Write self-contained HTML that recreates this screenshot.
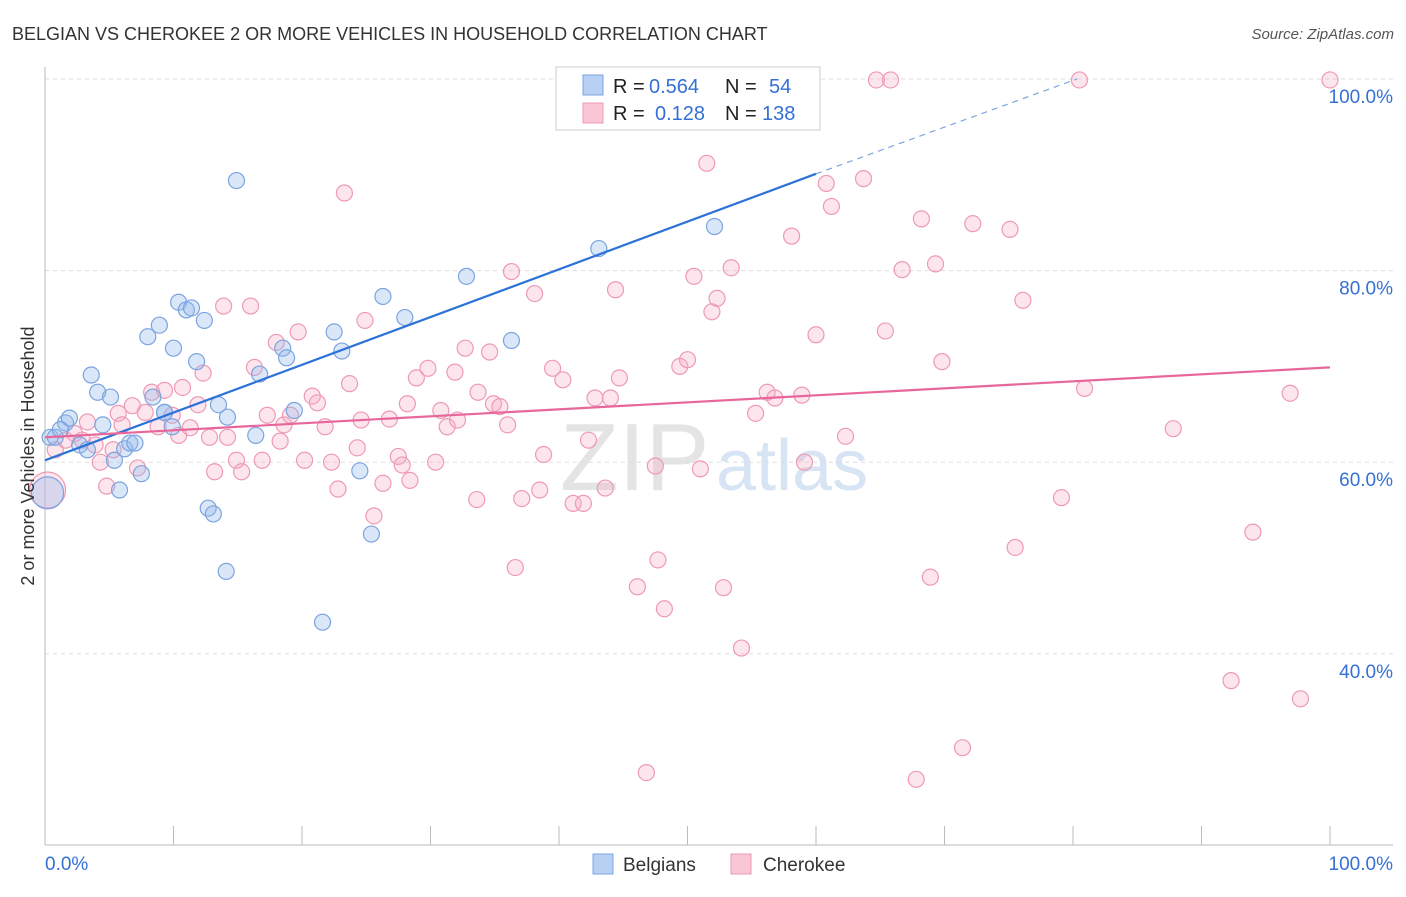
<!DOCTYPE html>
<html><head><meta charset="utf-8">
<style>
body{margin:0;background:#fff;font-family:"Liberation Sans",sans-serif;}
svg text{font-family:"Liberation Sans",sans-serif;}
</style></head>
<body>
<svg id="chart" width="1406" height="892">
<text x="12" y="40" font-size="18" fill="#333">BELGIAN VS CHEROKEE 2 OR MORE VEHICLES IN HOUSEHOLD CORRELATION CHART</text>
<text x="1394" y="39" font-size="15" fill="#555" font-style="italic" text-anchor="end">Source: ZipAtlas.com</text>
<text x="560" y="490" font-size="96" fill="#e4e4e4" font-family="Liberation Serif">ZIP</text>
<text x="716" y="490" font-size="72" fill="#d6e4f3">atlas</text>
<g id="grid"></g>
<g id="pts"></g>
<g id="lines"></g>
<text transform="translate(34,456) rotate(-90)" font-size="18" fill="#333" text-anchor="middle">2 or more Vehicles in Household</text>
<g>
<rect x="556" y="67" width="264" height="63" fill="#fff" stroke="#ccc"/>
<rect x="583" y="75" width="20" height="20" fill="#b8d0f4" stroke="#7ba4e0"/>
<rect x="583" y="103" width="20" height="20" fill="#f9c6d6" stroke="#ee9ab4"/>
<text x="613" y="93" font-size="20" fill="#222">R =</text><text x="649" y="93" font-size="20" fill="#3570d4">0.564</text>
<text x="725" y="93" font-size="20" fill="#222">N =</text><text x="769" y="93" font-size="20" fill="#3570d4">54</text>
<text x="613" y="120" font-size="20" fill="#222">R =</text><text x="655" y="120" font-size="20" fill="#3570d4">0.128</text>
<text x="725" y="120" font-size="20" fill="#222">N =</text><text x="762" y="120" font-size="20" fill="#3570d4">138</text>
</g>
<g>
<rect x="593" y="854" width="20" height="20" fill="#b8d0f4" stroke="#7ba4e0"/>
<text x="623" y="871" font-size="19" fill="#333">Belgians</text>
<rect x="731" y="854" width="20" height="20" fill="#f9c6d6" stroke="#ee9ab4"/>
<text x="763" y="871" font-size="19" fill="#333">Cherokee</text>
</g>
</svg>
<script>
const yTicks=[100,80,60,40];
const xTickLabels=["0.0%","100.0%"];
const belgX=[0.4,0.8,1.6,1.9,2.7,3.3,3.6,4.1,4.5,5.1,5.4,5.8,6.2,6.6,7.0,7.5,8.0,8.4,8.9,9.3,9.9,10.0,10.4,11.0,11.4,11.8,12.4,12.7,13.1,13.5,14.1,14.2,14.9,16.4,16.7,18.5,18.8,19.4,21.6,22.5,23.1,24.5,25.4,26.3,28.0,32.8,36.3,43.1,43.7,48.8,52.1,0.2,1.2,9.3];
const belgY=[62.6,62.6,64.1,64.6,61.8,61.3,69.1,67.3,63.9,66.8,60.2,57.1,61.4,62.0,62.0,58.8,73.1,66.8,74.3,65.2,63.7,71.9,76.7,75.9,76.1,70.5,74.8,55.2,54.6,66.0,48.6,64.7,89.4,62.8,69.2,71.9,70.9,65.4,43.3,73.6,71.6,59.1,52.5,77.3,75.1,79.4,72.7,82.3,99.9,99.9,84.6,56.8,63.4,65.2];
const cherX=[0.8,1.6,2.3,2.9,3.3,3.9,4.3,4.8,5.3,5.7,6.0,6.8,7.2,7.8,8.3,8.8,9.3,9.9,10.4,10.7,11.3,11.9,12.3,12.8,13.2,13.9,14.2,14.9,15.3,16.0,16.3,16.9,17.3,18.0,18.3,18.6,19.1,19.7,20.2,20.8,21.2,21.8,22.3,22.8,23.3,23.7,24.3,24.6,24.9,25.6,26.3,26.8,27.5,27.8,28.4,28.2,28.9,29.8,30.4,30.8,31.3,31.9,32.1,32.7,33.7,33.6,34.6,34.9,35.4,36.0,36.3,36.6,37.1,38.1,38.5,38.8,39.5,40.3,41.1,41.9,42.3,42.8,43.6,44.0,44.4,44.7,46.1,46.8,47.5,47.7,48.2,49.4,50.0,50.5,51.0,51.5,51.9,52.3,52.8,53.4,54.2,55.3,56.2,56.8,58.1,58.9,59.1,60.0,60.8,61.2,62.3,63.7,64.7,65.4,65.8,66.7,67.8,68.2,68.9,69.3,69.8,71.4,72.2,75.1,75.5,76.1,79.1,80.5,80.9,87.8,92.3,94.0,96.9,97.7,100,0.2];
const cherY=[61.3,62.3,63.0,62.3,64.2,61.8,60.0,57.5,61.3,65.1,63.9,65.9,59.4,65.2,67.3,63.7,67.5,64.9,62.8,67.8,63.6,66.0,69.3,62.6,59.0,76.3,62.6,60.2,59.0,76.3,69.9,60.2,64.9,72.5,62.2,63.9,64.9,73.6,60.2,66.9,66.2,63.7,60.0,57.2,88.1,68.2,61.5,64.4,74.8,54.4,57.8,64.5,60.6,59.7,58.1,66.1,68.8,69.8,60.0,65.4,63.7,69.4,64.4,71.9,67.3,56.1,71.5,66.1,65.8,63.9,79.9,49.0,56.2,77.6,57.1,60.8,69.8,68.6,55.7,55.7,62.3,66.7,57.3,66.7,78.0,68.8,47.0,27.6,59.6,49.8,44.7,70.0,70.7,79.4,59.3,91.2,75.7,77.1,46.9,80.3,40.6,65.1,67.3,66.7,83.6,67.0,60.0,73.3,89.1,86.7,62.7,89.6,99.9,73.7,99.9,80.1,26.9,85.4,48.0,80.7,70.5,30.2,84.9,84.3,51.1,76.9,56.3,99.9,67.7,63.5,37.2,52.7,67.2,35.3,99.9,57.1];
const belgTrend=[[0,60.2],[60,90.1]], belgTrendDash=[[60,90.1],[80.3,100]];
const cherTrend=[[0,62.6],[100,69.9]];
const NS="http://www.w3.org/2000/svg";
const sx=v=>45+v*12.85, sy=v=>79+(100-v)*9.58;
function mk(tag,attrs,parent){const e=document.createElementNS(NS,tag);for(const k in attrs)e.setAttribute(k,attrs[k]);parent.appendChild(e);return e;}
const grid=document.getElementById('grid');
yTicks.forEach(t=>{
 const l=mk('line',{x1:45,x2:1393,y1:sy(t),y2:sy(t),stroke:'#ddd','stroke-dasharray':'4,4'},grid);
 
 
 const tx=mk('text',{x:1393,y:sy(t)+24,'font-size':19,fill:'#3570d4','text-anchor':'end'},grid);tx.textContent=t.toFixed(1)+'%';
 
 
});
const ax=mk('line',{x1:45,x2:1393,y1:845,y2:845,stroke:'#bbb'},grid);


const ay=mk('line',{x1:45,x2:45,y1:67,y2:845,stroke:'#bbb'},grid);


for(let i=0;i<=10;i++){const t=mk('line',{x1:sx(i*10),x2:sx(i*10),y1:826,y2:845,stroke:'#bbb'},grid);
 
 }
[[0,'start',45],[1,'end',1393]].forEach(([i,a,x])=>{const t=mk('text',{x:x,y:870,'font-size':19,fill:'#3570d4','text-anchor':a},grid);t.textContent=xTickLabels[i];
 
 });
const pts=document.getElementById('pts');
cherX.forEach((x,i)=>{const big=i===cherX.length-1;const c=mk('circle',{cx:sx(x),cy:sy(cherY[i]),r:big?18:8,fill:'rgba(246,170,196,0.3)',stroke:'#ee9ab4','stroke-width':1.2},pts);
 
 });
belgX.forEach((x,i)=>{const big=i===51;const c=mk('circle',{cx:sx(x),cy:sy(belgY[i]),r:big?16:8,fill:'rgba(150,185,235,0.35)',stroke:'#7ba4e0','stroke-width':1.2},pts);
 
 });
const lines=document.getElementById('lines');
const l1=mk('line',{x1:sx(belgTrend[0][0]),y1:sy(belgTrend[0][1]),x2:sx(belgTrend[1][0]),y2:sy(belgTrend[1][1]),stroke:'#2c72d8','stroke-width':2.2},lines);


const l2=mk('line',{x1:sx(belgTrendDash[0][0]),y1:sy(belgTrendDash[0][1]),x2:sx(belgTrendDash[1][0]),y2:sy(belgTrendDash[1][1]),stroke:'#7ba4e0','stroke-width':1.2,'stroke-dasharray':'6,5'},lines);


const l3=mk('line',{x1:sx(cherTrend[0][0]),y1:sy(cherTrend[0][1]),x2:sx(cherTrend[1][0]),y2:sy(cherTrend[1][1]),stroke:'#e8679a','stroke-width':2.2},lines);


</script>
</body></html>
